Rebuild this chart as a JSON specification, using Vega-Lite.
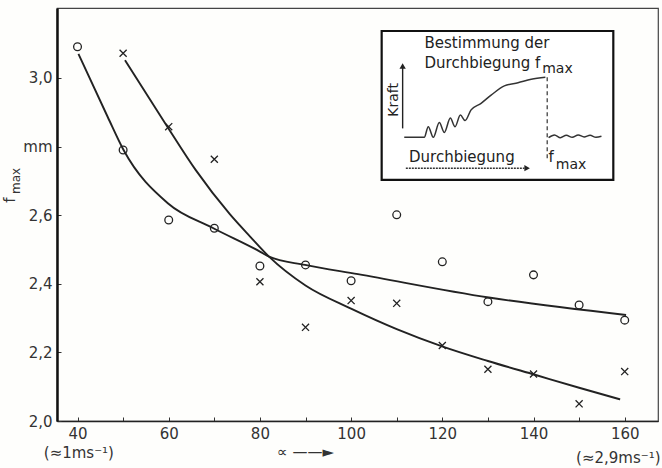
{
  "$schema": "https://vega.github.io/schema/vega-lite/v6.json",
  "width": 601,
  "height": 413,
  "autosize": {"type": "none"},
  "padding": {"left": 57, "top": 8, "right": 4, "bottom": 47},
  "background": "#fefefc",
  "config": {
    "view": {"stroke": "#444", "strokeWidth": 1.2},
    "font": "DejaVu Sans"
  },
  "datasets": {
    "obs": [
      {"a": 40, "k": 3.091, "s": "o"}, {"a": 50, "k": 2.79, "s": "o"}, {"a": 60, "k": 2.586, "s": "o"},
      {"a": 70, "k": 2.562, "s": "o"}, {"a": 80, "k": 2.452, "s": "o"}, {"a": 90, "k": 2.455, "s": "o"},
      {"a": 100, "k": 2.409, "s": "o"}, {"a": 110, "k": 2.601, "s": "o"}, {"a": 120, "k": 2.464, "s": "o"},
      {"a": 130, "k": 2.348, "s": "o"}, {"a": 140, "k": 2.426, "s": "o"}, {"a": 150, "k": 2.338, "s": "o"},
      {"a": 160, "k": 2.294, "s": "o"},
      {"a": 50, "k": 3.072, "s": "x"}, {"a": 60, "k": 2.858, "s": "x"}, {"a": 70, "k": 2.763, "s": "x"},
      {"a": 80, "k": 2.406, "s": "x"}, {"a": 90, "k": 2.273, "s": "x"}, {"a": 100, "k": 2.351, "s": "x"},
      {"a": 110, "k": 2.343, "s": "x"}, {"a": 120, "k": 2.22, "s": "x"}, {"a": 130, "k": 2.151, "s": "x"},
      {"a": 140, "k": 2.137, "s": "x"}, {"a": 150, "k": 2.05, "s": "x"}, {"a": 160, "k": 2.144, "s": "x"}
    ],
    "fit": [
      {"a": 40.2, "k": 3.07, "s": "o"}, {"a": 46.6, "k": 2.887, "s": "o"}, {"a": 50.1, "k": 2.79, "s": "o"},
      {"a": 59.8, "k": 2.635, "s": "o"}, {"a": 69.8, "k": 2.562, "s": "o"}, {"a": 80, "k": 2.494, "s": "o"},
      {"a": 82, "k": 2.479, "s": "o"}, {"a": 89.9, "k": 2.455, "s": "o"}, {"a": 101.5, "k": 2.428, "s": "o"},
      {"a": 130.2, "k": 2.36, "s": "o"}, {"a": 160.3, "k": 2.309, "s": "o"},
      {"a": 50.4, "k": 3.052, "s": "x"}, {"a": 59.7, "k": 2.858, "s": "x"}, {"a": 65.9, "k": 2.732, "s": "x"},
      {"a": 73.4, "k": 2.603, "s": "x"}, {"a": 77.9, "k": 2.537, "s": "x"}, {"a": 82, "k": 2.479, "s": "x"},
      {"a": 90, "k": 2.395, "s": "x"}, {"a": 100.1, "k": 2.327, "s": "x"}, {"a": 110, "k": 2.268, "s": "x"},
      {"a": 120.1, "k": 2.217, "s": "x"}, {"a": 130, "k": 2.175, "s": "x"}, {"a": 140.5, "k": 2.134, "s": "x"},
      {"a": 150, "k": 2.097, "s": "x"}, {"a": 159, "k": 2.063, "s": "x"}
    ],
    "inset": [
      {"a": 111.65, "k": 2.827, "p": "c"}, {"a": 116.04, "k": 2.827, "p": "c"}, {"a": 116.92, "k": 2.858, "p": "c"},
      {"a": 118.02, "k": 2.827, "p": "c"}, {"a": 119.34, "k": 2.87, "p": "c"}, {"a": 120.44, "k": 2.841, "p": "c"},
      {"a": 121.76, "k": 2.883, "p": "c"}, {"a": 122.79, "k": 2.858, "p": "c"}, {"a": 123.96, "k": 2.892, "p": "c"},
      {"a": 124.99, "k": 2.876, "p": "c"}, {"a": 126.31, "k": 2.907, "p": "c"}, {"a": 128.5, "k": 2.926, "p": "c"},
      {"a": 130.7, "k": 2.95, "p": "c"}, {"a": 133.6, "k": 2.977, "p": "c"}, {"a": 136.6, "k": 2.986, "p": "c"},
      {"a": 139.5, "k": 2.996, "p": "c"}, {"a": 142.6, "k": 3.002, "p": "c"},
      {"a": 143.3, "k": 2.826, "p": "t"}, {"a": 144.6, "k": 2.834, "p": "t"}, {"a": 145.9, "k": 2.826, "p": "t"},
      {"a": 147.2, "k": 2.833, "p": "t"}, {"a": 148.5, "k": 2.827, "p": "t"}, {"a": 149.8, "k": 2.834, "p": "t"},
      {"a": 151.1, "k": 2.828, "p": "t"}, {"a": 152.4, "k": 2.833, "p": "t"}, {"a": 153.7, "k": 2.827, "p": "t"},
      {"a": 154.9, "k": 2.83, "p": "t"}
    ],
    "box": [{"a": 106.7, "a2": 157.5, "k": 2.703, "k2": 3.137}],
    "vrules": [
      {"a": 143.0, "k": 3.002, "k2": 2.761, "r": "dash"},
      {"a": 111.3, "k": 2.853, "k2": 3.03, "r": "kraft"}
    ],
    "hrule": [{"a": 112.0, "a2": 138.0, "k": 2.737}],
    "heads": [
      {"a": 111.3, "k": 3.035, "h": "up"},
      {"a": 138.6, "k": 2.737, "h": "right"}
    ],
    "notes": [
      {"t": "Bestimmung der", "a": 116.1, "k": 3.101, "g": "left"},
      {"t": "Durchbiegung f", "a": 116.1, "k": 3.043, "g": "left"},
      {"t": "Durchbiegung", "a": 112.7, "k": 2.771, "g": "left"},
      {"t": "f", "a": 143.3, "k": 2.771, "g": "left"},
      {"t": "max", "a": 141.9, "k": 3.027, "g": "sub"},
      {"t": "max", "a": 144.9, "k": 2.745, "g": "sub"},
      {"t": "Kraft", "a": 109.4, "k": 2.936, "g": "rot"},
      {"t": "f", "a": 25.3, "k": 2.644, "g": "ytitle"},
      {"t": "max", "a": 26.6, "k": 2.7, "g": "ysub"},
      {"t": "(≈1ms⁻¹)", "a": 40.3, "k": 1.906, "g": "axis"},
      {"t": "∝ ——►", "a": 90, "k": 1.91, "g": "axis"},
      {"t": "(≈2,9ms⁻¹)", "a": 158.6, "k": 1.892, "g": "axis"}
    ]
  },
  "encoding": {
    "x": {
      "field": "a", "type": "quantitative",
      "scale": {"domain": [35.5, 167.3], "nice": false, "zero": false},
      "axis": {
        "values": [40, 50, 60, 70, 80, 90, 100, 110, 120, 130, 140, 150, 160],
        "labelExpr": "datum.value % 20 == 0 ? datum.label : ''",
        "format": "d", "grid": false, "title": null,
        "tickSize": -4, "tickColor": "#333", "labelPadding": 9,
        "labelFontSize": 15, "labelColor": "#333", "labelFont": "DejaVu Sans",
        "domainColor": "#222", "domainWidth": 1.5
      }
    },
    "y": {
      "field": "k", "type": "quantitative",
      "scale": {"domain": [2.0, 3.204], "nice": false, "zero": false},
      "axis": {
        "values": [2.0, 2.2, 2.4, 2.6, 2.8, 3.0],
        "labelExpr": "datum.value == 2.8 ? 'mm' : replace(format(datum.value, '.1f'), '.', ',')",
        "grid": false, "title": null,
        "tickSize": -4, "tickColor": "#333", "labelPadding": 9,
        "labelFontSize": 15, "labelColor": "#333", "labelFont": "DejaVu Sans",
        "domainColor": "#111", "domainWidth": 2.5
      }
    }
  },
  "layer": [
    {
      "data": {"name": "fit"},
      "mark": {"type": "line", "interpolate": "monotone", "color": "#222", "strokeWidth": 1.9},
      "encoding": {"detail": {"field": "s"}}
    },
    {
      "data": {"name": "obs"},
      "transform": [{"filter": "datum.s == 'o'"}],
      "mark": {"type": "point", "shape": "circle", "filled": false, "color": "#222", "size": 60, "strokeWidth": 1.3, "opacity": 1}
    },
    {
      "data": {"name": "obs"},
      "transform": [{"filter": "datum.s == 'x'"}],
      "mark": {"type": "point", "shape": "M-1,-1L1,1M-1,1L1,-1", "filled": false, "color": "#222", "size": 50, "strokeWidth": 1.3, "opacity": 1}
    },
    {
      "data": {"name": "box"},
      "mark": {"type": "rect", "fill": "#ffffff", "stroke": "#111", "strokeWidth": 2.2},
      "encoding": {"x2": {"field": "a2"}, "y2": {"field": "k2"}}
    },
    {
      "data": {"name": "inset"},
      "mark": {"type": "line", "interpolate": "monotone", "color": "#333", "strokeWidth": 1.5},
      "encoding": {"detail": {"field": "p"}}
    },
    {
      "data": {"name": "vrules"},
      "transform": [{"filter": "datum.r == 'dash'"}],
      "mark": {"type": "rule", "color": "#333", "strokeWidth": 1.2, "strokeDash": [4, 3]},
      "encoding": {"y2": {"field": "k2"}}
    },
    {
      "data": {"name": "vrules"},
      "transform": [{"filter": "datum.r == 'kraft'"}],
      "mark": {"type": "rule", "color": "#222", "strokeWidth": 1.4},
      "encoding": {"y2": {"field": "k2"}}
    },
    {
      "data": {"name": "hrule"},
      "mark": {"type": "rule", "color": "#333", "strokeWidth": 1.4, "strokeDash": [2, 1]},
      "encoding": {"x2": {"field": "a2"}}
    },
    {
      "data": {"name": "heads"},
      "transform": [{"filter": "datum.h == 'up'"}],
      "mark": {"type": "point", "shape": "triangle-up", "filled": true, "color": "#222", "size": 40, "opacity": 1}
    },
    {
      "data": {"name": "heads"},
      "transform": [{"filter": "datum.h == 'right'"}],
      "mark": {"type": "point", "shape": "triangle-right", "filled": true, "color": "#222", "size": 40, "opacity": 1}
    },
    {
      "data": {"name": "notes"},
      "transform": [{"filter": "datum.g == 'left'"}],
      "mark": {"type": "text", "align": "left", "baseline": "middle", "fontSize": 15, "color": "#222", "font": "DejaVu Sans"},
      "encoding": {"text": {"field": "t"}}
    },
    {
      "data": {"name": "notes"},
      "transform": [{"filter": "datum.g == 'sub'"}],
      "mark": {"type": "text", "align": "left", "baseline": "middle", "fontSize": 14, "color": "#222", "font": "DejaVu Sans"},
      "encoding": {"text": {"field": "t"}}
    },
    {
      "data": {"name": "notes"},
      "transform": [{"filter": "datum.g == 'rot'"}],
      "mark": {"type": "text", "align": "center", "baseline": "middle", "angle": 270, "fontSize": 14, "color": "#222", "font": "DejaVu Sans"},
      "encoding": {"text": {"field": "t"}}
    },
    {
      "data": {"name": "notes"},
      "transform": [{"filter": "datum.g == 'ytitle'"}],
      "mark": {"type": "text", "align": "center", "baseline": "middle", "angle": 270, "fontSize": 15, "color": "#333", "font": "DejaVu Sans"},
      "encoding": {"text": {"field": "t"}}
    },
    {
      "data": {"name": "notes"},
      "transform": [{"filter": "datum.g == 'ysub'"}],
      "mark": {"type": "text", "align": "center", "baseline": "middle", "angle": 270, "fontSize": 12, "color": "#333", "font": "DejaVu Sans"},
      "encoding": {"text": {"field": "t"}}
    },
    {
      "data": {"name": "notes"},
      "transform": [{"filter": "datum.g == 'axis'"}],
      "mark": {"type": "text", "align": "center", "baseline": "middle", "fontSize": 15, "color": "#333", "font": "DejaVu Sans"},
      "encoding": {"text": {"field": "t"}}
    }
  ]
}
